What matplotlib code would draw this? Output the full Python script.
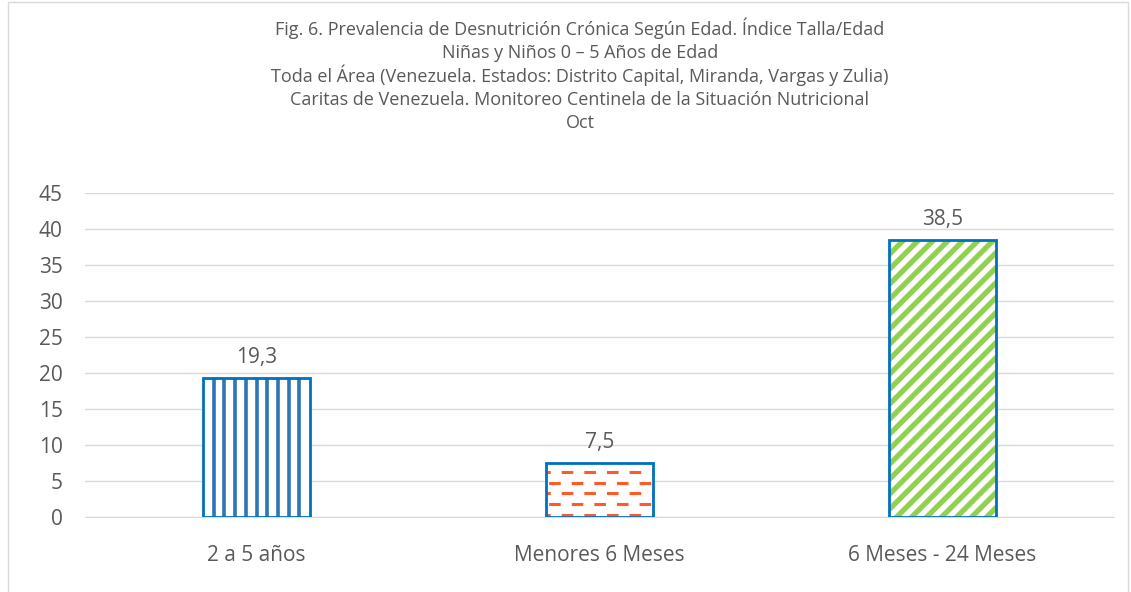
import matplotlib.pyplot as plt
import numpy as np
from matplotlib.patches import Rectangle
from matplotlib.transforms import IdentityTransform

# datos
categorias = ['2 a 5 años', 'Menores 6 Meses', '6 Meses - 24 Meses']
valores = [19.3, 7.5, 38.5]
titulo = ['Fig. 6. Prevalencia de Desnutrición Crónica Según Edad. Índice Talla/Edad',
          'Niñas y Niños 0 – 5 Años de Edad',
          'Toda el Área (Venezuela. Estados: Distrito Capital, Miranda, Vargas y Zulia)',
          'Caritas de Venezuela. Monitoreo Centinela de la Situación Nutricional',
          'Oct']

GRIS = '#595959'
AZUL = '#0070C0'
plt.rcParams['font.family'] = ['Open Sans', 'DejaVu Sans']

W, H = 1131, 592
fig = plt.figure(figsize=(W / 100, H / 100), dpi=100)
fig.patches.append(Rectangle((8 / W, -0.1), (1128 - 8) / W, 1.1 - 2 / H,
                             transform=fig.transFigure, fill=False,
                             edgecolor='#D9D9D9', lw=1))

ax = fig.add_axes([85 / W, 1 - 517 / H, 1029 / W, 324 / H])
x = np.arange(len(categorias))
barras = ax.bar(x, valores, width=0.3125, facecolor='white',
                edgecolor='none', zorder=3)
ax.bar(x, valores, width=0.3125, facecolor='none',
       edgecolor=AZUL, linewidth=2, zorder=4)
ax.set_xlim(-0.5, 2.5)
ax.set_ylim(0, 45)
ax.set_yticks(np.arange(0, 46, 5))
ax.set_xticks(x, categorias)
ax.grid(axis='y', color='#D9D9D9', lw=1, zorder=0)
for s in ['top', 'right', 'left']:
    ax.spines[s].set_visible(False)
ax.spines['bottom'].set_color('#D9D9D9')
ax.tick_params(length=0, labelsize=15, labelcolor=GRIS)
ax.tick_params(axis='y', pad=16)
ax.tick_params(axis='x', pad=20)

for b, v in zip(barras, valores):
    ax.annotate(f'{v:.1f}'.replace('.', ','), (b.get_x() + b.get_width() / 2, v),
                xytext=(0, 7), textcoords='offset points', ha='center',
                va='bottom', fontsize=15, color=GRIS)


def extent(b):
    (x0, y0), (x1, y1) = ax.transData.transform(
        [[b.get_x(), b.get_y()], [b.get_x() + b.get_width(), b.get_y() + b.get_height()]])
    return x0, y0, x1, y1


def linea(xs, ys, b, **kw):
    ln, = ax.plot(xs, ys, transform=IdentityTransform(), zorder=3.5, **kw)
    ln.set_clip_path(b)


# rayado vertical azul
b = barras[0]
x0, y0, x1, y1 = extent(b)
for xv in np.linspace(x0, x1, 11)[1:-1]:
    linea([xv, xv], [y0, y1], b, color='#2E75B6', lw=2.6, solid_capstyle='butt')

# rayas horizontales discontinuas naranjas
b = barras[1]
x0, y0, x1, y1 = extent(b)
for i, yv in enumerate(np.arange(y1 - 9, y0, -10.7)):
    off = 0 if i % 2 == 0 else 10.5
    linea([x0 - 30 + off, x1 + 30], [yv, yv], b, color='#FF5B29', lw=2.2,
          dashes=(3.8, 3.6), solid_capstyle='butt')

# rayado diagonal verde
b = barras[2]
x0, y0, x1, y1 = extent(b)
alto = y1 - y0
for xs in np.arange(x0 - alto, x1 + 15, 15):
    linea([xs, xs + alto], [y0, y1], b, color='#92D050', lw=3.8)

for i, t in enumerate(titulo):
    fig.text(580 / W, 1 - (35 + 23.3 * i) / H, t, ha='center', va='baseline',
             fontsize=13, color=GRIS)

fig.savefig('out.png', dpi=100)
